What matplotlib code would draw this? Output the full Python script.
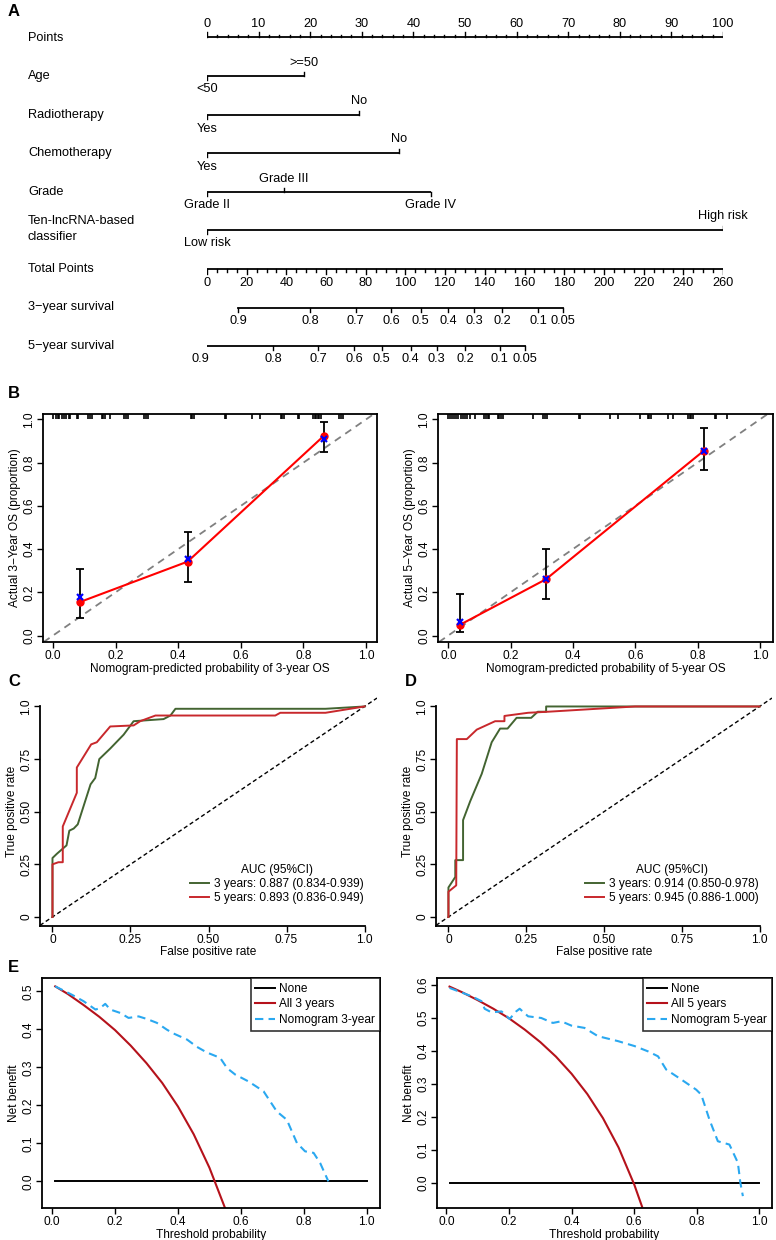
import numpy as np
import matplotlib.pyplot as plt

plt.rcParams['font.family'] = ['Liberation Sans', 'DejaVu Sans']
plt.rcParams['axes.unicode_minus'] = True

W, H = 776, 1240

# ---- A: nomogram data ----
points_ticks = list(range(0, 101, 10))
age_levels = ['<50', '>=50']
age_pts = [0, 18.8]
radio_levels = ['Yes', 'No']
radio_pts = [0, 29.4]
chemo_levels = ['Yes', 'No']
chemo_pts = [0, 37.3]
grade_levels = ['Grade II', 'Grade III', 'Grade IV']
grade_pts = [0, 14.9, 43.4]
risk_levels = ['Low risk', 'High risk']
risk_pts = [0, 100]
total_ticks = list(range(0, 261, 20))
total_max = 260
surv_labels = ['0.9', '0.8', '0.7', '0.6', '0.5', '0.4', '0.3', '0.2', '0.1', '0.05']
surv3_total = [15.6, 51.9, 74.9, 92.7, 107.6, 121.4, 134.5, 148.6, 166.8, 179.4]
surv5_total = [-3.4, 33.3, 55.9, 74.1, 88.0, 102.6, 115.7, 130.0, 147.5, 160.2]

# ---- B: calibration data ----
cal3_pred = [0.086, 0.43, 0.866]
cal3_obs = [0.155, 0.342, 0.925]
cal3_corr = [0.178, 0.352, 0.91]
cal3_lo = [0.082, 0.249, 0.85]
cal3_hi = [0.31, 0.48, 0.99]
rug3 = [0.0, 0.008, 0.015, 0.02, 0.028, 0.035, 0.042, 0.05, 0.054, 0.078, 0.081, 0.112, 0.118, 0.124,
        0.155, 0.161, 0.167, 0.182, 0.228, 0.232, 0.238, 0.29, 0.296, 0.302, 0.44, 0.445, 0.45,
        0.548, 0.552, 0.635, 0.661, 0.728, 0.733, 0.738, 0.782, 0.786, 0.83, 0.836, 0.84, 0.845,
        0.85, 0.855, 0.915, 0.92, 0.925]
cal5_pred = [0.038, 0.313, 0.82]
cal5_obs = [0.05, 0.26, 0.855]
cal5_corr = [0.062, 0.262, 0.855]
cal5_lo = [0.015, 0.17, 0.765]
cal5_hi = [0.19, 0.40, 0.96]
rug5 = [0.0, 0.006, 0.012, 0.018, 0.025, 0.032, 0.04, 0.047, 0.053, 0.059, 0.07, 0.086, 0.115,
        0.12, 0.126, 0.132, 0.158, 0.163, 0.169, 0.175, 0.273, 0.305, 0.31, 0.316, 0.418, 0.422,
        0.519, 0.545, 0.615, 0.64, 0.645, 0.65, 0.706, 0.722, 0.77, 0.775, 0.78, 0.786, 0.855,
        0.86, 0.893]

# ---- C / D: ROC data ----
fpr3c = [0, 0, 0.014, 0.045, 0.054, 0.068, 0.081, 0.122, 0.137, 0.15, 0.185, 0.228, 0.26, 0.356,
         0.378, 0.394, 0.875, 1.0]
tpr3c = [0, 0.28, 0.30, 0.34, 0.41, 0.42, 0.44, 0.63, 0.66, 0.75, 0.80, 0.866, 0.93, 0.94,
         0.957, 0.989, 0.989, 1.0]
fpr5c = [0, 0, 0.019, 0.033, 0.033, 0.078, 0.078, 0.124, 0.142, 0.185, 0.26, 0.281, 0.308, 0.33,
         0.714, 0.73, 0.875, 1.0]
tpr5c = [0, 0.25, 0.26, 0.26, 0.43, 0.59, 0.71, 0.82, 0.83, 0.905, 0.91, 0.93, 0.945, 0.957,
         0.957, 0.97, 0.97, 1.0]
fpr3d = [0, 0, 0.022, 0.022, 0.047, 0.047, 0.07, 0.107, 0.139, 0.166, 0.19, 0.219, 0.266, 0.287,
         0.314, 0.314, 1.0]
tpr3d = [0, 0.14, 0.19, 0.27, 0.27, 0.46, 0.55, 0.68, 0.83, 0.895, 0.895, 0.946, 0.946, 0.975,
         0.975, 1.0, 1.0]
fpr5d = [0, 0, 0.025, 0.027, 0.059, 0.091, 0.15, 0.18, 0.18, 0.256, 0.32, 0.6, 1.0]
tpr5d = [0, 0.12, 0.15, 0.845, 0.845, 0.89, 0.93, 0.93, 0.955, 0.97, 0.975, 1.0, 1.0]
auc_c = ['3 years: 0.887 (0.834-0.939)', '5 years: 0.893 (0.836-0.949)']
auc_d = ['3 years: 0.914 (0.850-0.978)', '5 years: 0.945 (0.886-1.000)']

# ---- E: decision curve data ----
thr_all = [0.01, 0.05, 0.1, 0.15, 0.2, 0.25, 0.3, 0.35, 0.4, 0.45, 0.5, 0.55]
nb_all3 = [0.513, 0.493, 0.464, 0.433, 0.398, 0.357, 0.311, 0.259, 0.197, 0.124, 0.036, -0.071]
thr_all5 = [0.01, 0.05, 0.1, 0.15, 0.2, 0.25, 0.3, 0.35, 0.4, 0.45, 0.5, 0.55, 0.6, 0.625]
nb_all5 = [0.594, 0.577, 0.553, 0.527, 0.498, 0.464, 0.426, 0.382, 0.33, 0.269, 0.196, 0.107,
           -0.005, -0.072]
thr_nom3 = [0.01, 0.063, 0.1, 0.138, 0.153, 0.169, 0.185, 0.217, 0.243, 0.275, 0.302, 0.333, 0.365,
            0.386, 0.429, 0.46, 0.492, 0.534, 0.556, 0.582, 0.624, 0.672, 0.714, 0.746, 0.778,
            0.804, 0.831, 0.852, 0.878]
nb_nom3 = [0.513, 0.491, 0.474, 0.452, 0.456, 0.467, 0.452, 0.443, 0.43, 0.434, 0.427, 0.417, 0.399,
           0.389, 0.373, 0.354, 0.339, 0.325, 0.298, 0.281, 0.263, 0.237, 0.184, 0.162, 0.101,
           0.079, 0.075, 0.048, 0.0]
thr_nom5 = [0.01, 0.08, 0.112, 0.122, 0.144, 0.176, 0.202, 0.223, 0.234, 0.261, 0.303, 0.34, 0.367,
            0.399, 0.441, 0.484, 0.548, 0.601, 0.644, 0.676, 0.702, 0.75, 0.798, 0.814, 0.84,
            0.867, 0.904, 0.931, 0.939, 0.947]
nb_nom5 = [0.59, 0.565, 0.55, 0.527, 0.516, 0.519, 0.496, 0.519, 0.527, 0.504, 0.499, 0.484, 0.489,
           0.476, 0.469, 0.444, 0.429, 0.414, 0.398, 0.383, 0.343, 0.313, 0.282, 0.267, 0.192,
           0.126, 0.116, 0.061, 0.0, -0.04]

green = '#436431'
red = '#C8282C'
dca_red = '#B5121B'
dca_blue = '#2AA8F0'
FS = 8.6
FS_A = 9.2


def px_axes(fig, x0, y0, x1, y1):
    return fig.add_axes([x0 / W, 1 - y1 / H, (x1 - x0) / W, (y1 - y0) / H])


def r_style(ax, xticks, xlabels, yticks, ylabels, box=True):
    for s in ax.spines.values():
        s.set_linewidth(1.3)
    if not box:
        ax.spines['top'].set_visible(False)
        ax.spines['right'].set_visible(False)
    ax.set_xticks(xticks, xlabels)
    ax.set_yticks(yticks, ylabels, rotation=90, va='center')
    ax.tick_params(direction='out', length=4, width=1, labelsize=FS, pad=1.5)


fig = plt.figure(figsize=(W / 100, H / 100), dpi=100)

# ---------------- A ----------------
ax = px_axes(fig, 207, 0, 723, 370)
ax.set_xlim(0, 100)
ax.set_ylim(370, 0)
ax.axis('off')
px = 100 / 516  # points per pixel
label_x = (28 - 207) * px
lw = 1.3


def level_row(y, pts, labels):
    ax.plot([min(pts), max(pts)], [y, y], color='k', lw=lw, solid_capstyle='butt')
    for i, (p, l) in enumerate(zip(pts, labels)):
        d = 1 if i % 2 == 0 else -1
        ax.plot([p, p], [y, y + 4 * d], color='k', lw=1)
        ax.text(p, y + 13.5 * d, l, ha='center', va='center', fontsize=FS_A)


rows = [('Points', 38), ('Age', 76), ('Radiotherapy', 115), ('Chemotherapy', 153),
        ('Grade', 192), ('Ten-lncRNA-based\nclassifier', 229), ('Total Points', 269),
        ('3\u2212year survival', 307), ('5\u2212year survival', 346)]
for name, y in rows:
    ax.text(label_x, y, name, ha='left', va='center', fontsize=FS_A, linespacing=1.4)

# Points axis
ax.plot([0, 100], [37, 37], color='k', lw=lw)
for p in range(0, 101, 2):
    ax.plot([p, p], [37, 37 - (5 if p % 10 == 0 else 2.5)], color='k', lw=1)
for p in points_ticks:
    ax.text(p, 24, str(p), ha='center', va='center', fontsize=FS_A)

level_row(76, age_pts, age_levels)
level_row(115, radio_pts, radio_levels)
level_row(153, chemo_pts, chemo_levels)
level_row(192, grade_pts, grade_levels)
level_row(230, risk_pts, risk_levels)

# Total points axis
tp = 100 / total_max
ax.plot([0, 100], [269, 269], color='k', lw=lw)
for t in range(0, total_max + 1, 5):
    ax.plot([t * tp, t * tp], [269, 269 + (5 if t % 20 == 0 else 2.5)], color='k', lw=1)
for t in total_ticks:
    ax.text(t * tp, 283, str(t), ha='center', va='center', fontsize=FS_A)

for yline, tots in [(308, surv3_total), (346, surv5_total)]:
    xs = [t * tp for t in tots]
    ax.plot([min(xs), max(xs)], [yline, yline], color='k', lw=lw)
    for xv, l in zip(xs, surv_labels):
        ax.plot([xv, xv], [yline, yline + 4], color='k', lw=1)
        ax.text(xv, yline + 13, l, ha='center', va='center', fontsize=FS_A)

# panel letters
for letter, (lx, ly) in {'A': (8, 12), 'B': (8, 393), 'C': (8, 681), 'D': (405, 681),
                         'E': (8, 967)}.items():
    fig.text(lx / W, 1 - ly / H, letter, fontsize=12, fontweight='bold', ha='left', va='center')

# ---------------- B ----------------
cal_sets = [
    ((43, 414, 377, 642), (-0.032, 1.035), cal3_pred, cal3_obs, cal3_corr, cal3_lo, cal3_hi, rug3, '3'),
    ((438, 414, 773, 642), (-0.033, 1.042), cal5_pred, cal5_obs, cal5_corr, cal5_lo, cal5_hi, rug5, '5'),
]
ticks = [0, 0.2, 0.4, 0.6, 0.8, 1.0]
tlabs = ['0.0', '0.2', '0.4', '0.6', '0.8', '1.0']
for box, xl, pred, obs, corr, lo, hi, rug, yr in cal_sets:
    a = px_axes(fig, *box)
    a.set_xlim(*xl)
    a.set_ylim(-0.03, 1.025)
    a.axline((0, 0), (1, 1), color='#808080', lw=1.3, ls=(0, (4, 3)))
    a.vlines(rug, 0.98, 1.0, color='k', lw=1.2, transform=a.get_xaxis_transform())
    a.errorbar(pred, obs, yerr=[np.array(obs) - np.array(lo), np.array(hi) - np.array(obs)],
               fmt='none', ecolor='k', elinewidth=1.3, capsize=3, capthick=1.3)
    a.plot(pred, obs, color='#FF0000', lw=1.5, marker='o', ms=5)
    a.plot(pred, corr, ls='none', marker='x', color='#0000FF', ms=5, mew=1.6)
    r_style(a, ticks, tlabs, ticks, tlabs)
    a.set_xlabel(f'Nomogram-predicted probability of {yr}-year OS', fontsize=FS, labelpad=1)
    a.set_ylabel(f'Actual {yr}\u2212Year OS (proportion)', fontsize=FS, labelpad=2)

# ---------------- C / D ----------------
roc_sets = [
    ((40, 697, 377, 926), fpr3c, tpr3c, fpr5c, tpr5c, auc_c),
    ((436, 697, 772, 926), fpr3d, tpr3d, fpr5d, tpr5d, auc_d),
]
rticks = [0, 0.25, 0.5, 0.75, 1.0]
rlabs = ['0', '0.25', '0.50', '0.75', '1.0']
for box, f3, t3, f5, t5, aucs in roc_sets:
    a = px_axes(fig, *box)
    a.set_xlim(-0.04, 1.04)
    a.set_ylim(-0.043, 1.045)
    a.axline((0, 0), (1, 1), color='k', lw=1, ls=(0, (3, 2)))
    a.plot(f3, t3, color=green, lw=1.4, label=aucs[0])
    a.plot(f5, t5, color=red, lw=1.4, label=aucs[1])
    r_style(a, rticks, rlabs, rticks, rlabs, box=False)
    a.spines['bottom'].set_bounds(-0.04, 1.0)
    a.spines['left'].set_bounds(-0.043, 1.0)
    a.set_xlabel('False positive rate', fontsize=FS, labelpad=0)
    a.set_ylabel('True positive rate', fontsize=FS, labelpad=2)
    leg = a.legend(loc='lower right', bbox_to_anchor=(0.985, 0.06), frameon=False, fontsize=FS,
                   title='AUC (95%CI)', title_fontsize=FS, handlelength=1.6, handletextpad=0.4,
                   labelspacing=0.15, borderpad=0.2)

# ---------------- E ----------------
dca_sets = [
    ((42, 978, 380, 1208), (-0.032, 1.042), (-0.07, 0.535), thr_all, nb_all3, thr_nom3, nb_nom3,
     [0, 0.1, 0.2, 0.3, 0.4, 0.5], '3'),
    ((437, 978, 772, 1208), (-0.03, 1.04), (-0.076, 0.62), thr_all5, nb_all5, thr_nom5, nb_nom5,
     [0, 0.1, 0.2, 0.3, 0.4, 0.5, 0.6], '5'),
]
for box, xl, yl, ta, na, tn, nn, yt, yr in dca_sets:
    a = px_axes(fig, *box)
    a.set_xlim(*xl)
    a.set_ylim(*yl)
    a.plot([0.01, 1.0], [0, 0], color='k', lw=1.4, label='None')
    a.plot(ta, na, color=dca_red, lw=1.5, label=f'All {yr} years')
    a.plot(tn, nn, color=dca_blue, lw=1.5, ls=(0, (4, 2.5)), label=f'Nomogram {yr}-year')
    r_style(a, ticks, tlabs, yt, [f'{v:.1f}' for v in yt])
    a.set_xlabel('Threshold probability', fontsize=FS, labelpad=1)
    a.set_ylabel('Net benefit', fontsize=FS, labelpad=2)
    leg = a.legend(loc='upper right', borderaxespad=0, fancybox=False, edgecolor='k',
                   fontsize=FS, handlelength=1.6, handletextpad=0.4, labelspacing=0.3)
    leg.get_frame().set_linewidth(1.2)

fig.savefig('out.png', dpi=100)
